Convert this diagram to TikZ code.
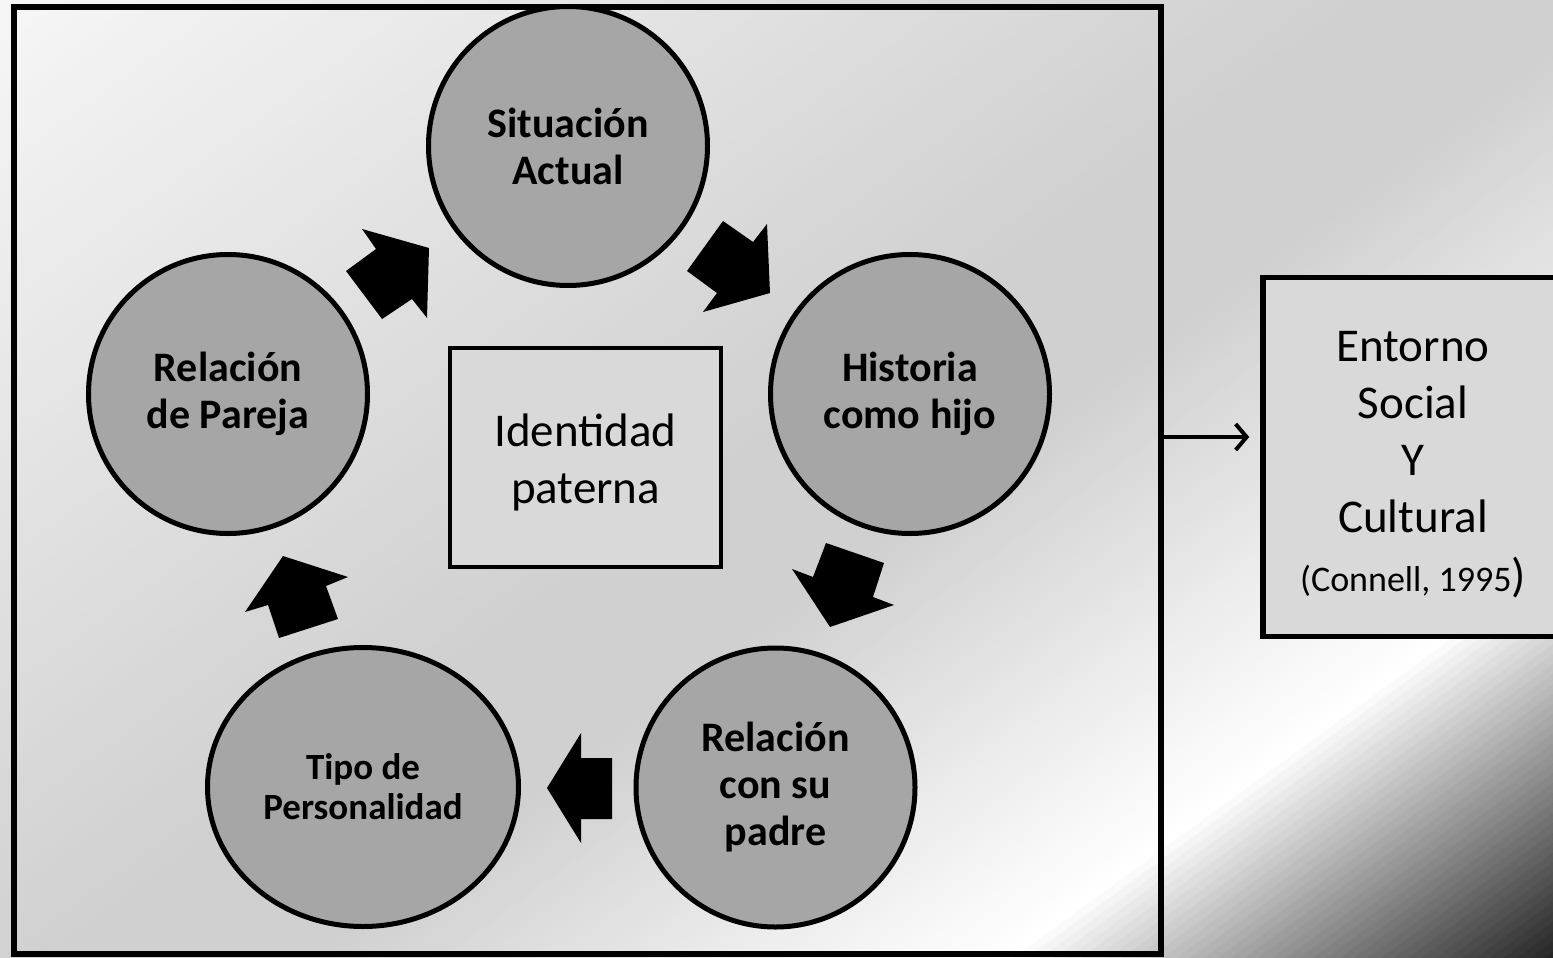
\documentclass[tikz,border=0pt]{standalone}
\usepackage{fontspec}
\setmainfont{Carlito}
\usetikzlibrary{shapes.geometric,arrows.meta}
\definecolor{circfill}{HTML}{A6A6A6}
\definecolor{boxfill}{HTML}{D9D9D9}
\begin{document}
\begin{tikzpicture}[x=1pt,y=-1pt,
  circnode/.style={circle,draw=black,line width=5pt,fill=circfill,minimum size=279pt,inner sep=0pt,align=center,font=\bfseries\fontsize{42}{47}\selectfont},
  ellnode/.style={ellipse,draw=black,line width=5pt,fill=circfill,minimum width=311pt,minimum height=279pt,inner sep=0pt,align=center,font=\bfseries\fontsize{37}{40}\selectfont},
  boxnode/.style={rectangle,draw=black,fill=boxfill,inner sep=0pt},
  boxtext/.style={align=center,inner sep=0pt,font=\fontsize{47}{57}\selectfont},
  blockarrow/.style={fill=black},
  link/.style={line width=4pt,-{Straight Barb[length=11pt,width=26pt]}}
]
\useasboundingbox (0,0) rectangle (1553,958);
\begin{scope}
\clip (0,0) rectangle (1553,958);
\foreach \i in {0,...,215}{
  \pgfmathsetmacro\p{8*\i}
  \pgfmathsetmacro\ga{246-0.0475*\p}
  \pgfmathsetmacro\gb{208+0.1146*(\p-950)}
  \pgfmathsetmacro\gc{255-0.6777*(\p-1360)}
  \pgfmathsetmacro\g{\p<=800 ? \ga : (\p<=950 ? 208 : (\p<=1360 ? \gb : \gc))}
  \pgfmathsetmacro\gv{max(0,min(1,\g/255))}
  \definecolor{bandc}{gray}{\gv}
  \pgfmathsetmacro\ax{0.59*\p-1620}
  \pgfmathsetmacro\ay{0.81*\p+1180}
  \pgfmathsetmacro\bx{0.59*\p+1620}
  \pgfmathsetmacro\by{0.81*\p-1180}
  \fill[bandc] (\ax,\ay) -- (\bx,\by) -- (\bx+5.1,\by+7) -- (\ax+5.1,\ay+7) -- cycle;
}
\end{scope}

\node[draw=black,line width=6pt,minimum width=1147pt,minimum height=947pt,inner sep=0pt] (mainbox) at (587.5,480.5) {};

\node[circnode] (sit) at (568,146) {Situación\\Actual};
\node[circnode] (hist) at (910,394) {Historia\\como hijo};
\node[circnode] (padre) at (775.5,787.5) {Relación\\con su\\padre};
\node[ellnode] (tipo) at (363,787) {Tipo de\\Personalidad};
\node[circnode] (pareja) at (228,394) {Relación\\de Pareja};

\node[boxnode,line width=4.5pt,minimum width=271pt,minimum height=219pt] (ident) at (585.5,457.5) {};
\node[boxtext] (identtxt) at (585.5,462) {Identidad\\paterna};
\node[boxnode,line width=5.5pt,minimum width=300pt,minimum height=359pt] (entorno) at (1413,457) {};
\node[boxtext] (entornotxt) at (1413,465) {Entorno\\Social\\Y\\Cultural\\[2pt]{\fontsize{36}{40}\selectfont(Connell, 1995}{\fontsize{47}{57}\selectfont)}};

\coordinate (arrtip) at ([xshift=-11pt,yshift=20pt]entorno.west);
\draw[link] (mainbox.east |- arrtip) -- (arrtip);

\fill[blockarrow] (429,248) -- (427,318) -- (412,299) -- (382,319) -- (346,271) -- (376,249) -- (362,229) -- cycle;
\fill[blockarrow] (770,293) -- (703,312) -- (717,293) -- (687,271) -- (723,221) -- (753,242) -- (767,224) -- cycle;
\fill[blockarrow] (830,627) -- (894,605) -- (873,597) -- (884,563) -- (826,543) -- (813,577) -- (792,569) -- cycle;
\fill[blockarrow] (283,556) -- (348,577) -- (326,586) -- (338,619) -- (279,638) -- (268,605) -- (245,612) -- cycle;
\fill[blockarrow] (547,788) -- (581,733) -- (581,758) -- (612,758) -- (612,819) -- (581,819) -- (581,843) -- cycle;
\end{tikzpicture}
\end{document}
